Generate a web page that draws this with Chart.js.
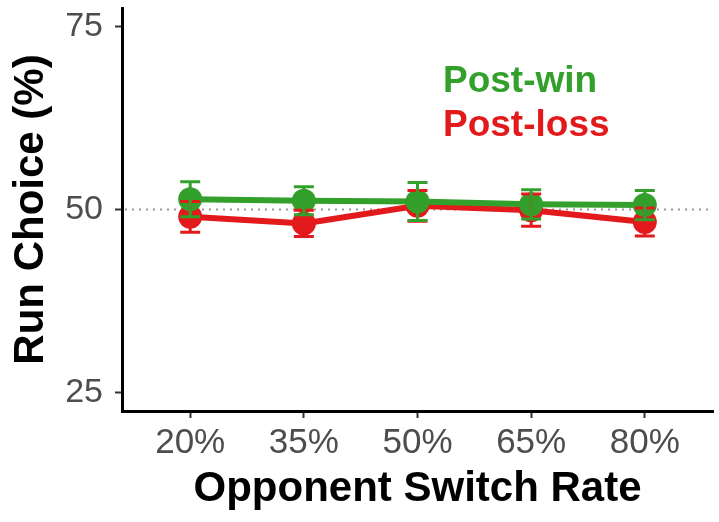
<!DOCTYPE html>
<html>
<head>
<meta charset="utf-8">
<script src="https://cdn.jsdelivr.net/npm/chart.js@4"></script>
<style>
  html, body { margin: 0; padding: 0; background: #fff; }
</style>
</head>
<body>
<canvas id="runChart" width="719" height="522"></canvas>
<script>
const categories = ['20%', '35%', '50%', '65%', '80%'];
const postWin = [51.4, 51.2, 51.1, 50.7, 50.6];
const postWinErr = [2.4, 1.9, 2.6, 2.0, 2.0];
const postLoss = [49.0, 48.1, 50.5, 49.9, 48.3];
const postLossErr = [2.1, 1.8, 2.1, 2.2, 1.9];
const yTicks = [25, 50, 75];
const refLine = 50;

const GREEN = '#33a02c';
const RED = '#e31a1c';
const FONT = '"Liberation Sans", Arial, Helvetica, sans-serif';

function toPoints(values) {
  return values.map(function (v, i) { return { x: i, y: v }; });
}

// dotted line at 50 behind the data
const refLinePlugin = {
  id: 'refLine',
  beforeDatasetsDraw(chart) {
    const ctx = chart.ctx;
    const area = chart.chartArea;
    const y = chart.scales.y.getPixelForValue(refLine);
    ctx.save();
    ctx.strokeStyle = '#9a9a9a';
    ctx.lineWidth = 2;
    ctx.setLineDash([2, 5]);
    ctx.beginPath();
    ctx.moveTo(area.left + 3, y);
    ctx.lineTo(area.right, y);
    ctx.stroke();
    ctx.restore();
  }
};

// error bars drawn on top of points
const errorBarPlugin = {
  id: 'errorBars',
  afterDatasetsDraw(chart) {
    const ctx = chart.ctx;
    const yScale = chart.scales.y;
    for (let d = chart.data.datasets.length - 1; d >= 0; d--) {
      const ds = chart.data.datasets[d];
      const meta = chart.getDatasetMeta(d);
      ctx.save();
      ctx.strokeStyle = ds.borderColor;
      ctx.lineWidth = 3;
      meta.data.forEach(function (pt, i) {
        const v = ds.data[i].y;
        const top = yScale.getPixelForValue(v + ds.errors[i]);
        const bot = yScale.getPixelForValue(v - ds.errors[i]);
        ctx.beginPath();
        ctx.moveTo(pt.x, top);
        ctx.lineTo(pt.x, bot);
        ctx.moveTo(pt.x - 10, top);
        ctx.lineTo(pt.x + 10, top);
        ctx.moveTo(pt.x - 10, bot);
        ctx.lineTo(pt.x + 10, bot);
        ctx.stroke();
      });
      ctx.restore();
    }
  }
};

// text-only legend inside the panel
const textLegendPlugin = {
  id: 'textLegend',
  afterDraw(chart) {
    const ctx = chart.ctx;
    const area = chart.chartArea;
    ctx.save();
    ctx.font = 'bold 37px ' + FONT;
    ctx.textAlign = 'left';
    ctx.textBaseline = 'alphabetic';
    chart.data.datasets.forEach(function (ds, i) {
      ctx.fillStyle = ds.borderColor;
      ctx.fillText(ds.label, area.left + 321, area.top + 84 + i * 44);
    });
    ctx.restore();
  }
};

const ctx = document.getElementById('runChart').getContext('2d');

new Chart(ctx, {
  type: 'line',
  data: {
    datasets: [
      {
        label: 'Post-win',
        data: toPoints(postWin),
        errors: postWinErr,
        borderColor: GREEN,
        backgroundColor: GREEN,
        borderWidth: 6,
        pointRadius: 12,
        pointBorderWidth: 0,
        pointBackgroundColor: GREEN,
        tension: 0
      },
      {
        label: 'Post-loss',
        data: toPoints(postLoss),
        errors: postLossErr,
        borderColor: RED,
        backgroundColor: RED,
        borderWidth: 6,
        pointRadius: 12,
        pointBorderWidth: 0,
        pointBackgroundColor: RED,
        tension: 0
      }
    ]
  },
  options: {
    responsive: false,
    animation: false,
    devicePixelRatio: 1,
    layout: { autoPadding: false, padding: { top: 8, right: 6, left: 0, bottom: 0 } },
    plugins: {
      legend: { display: false },
      tooltip: { enabled: false }
    },
    scales: {
      x: {
        type: 'linear',
        min: -0.6,
        max: 4.6,
        afterBuildTicks: function (scale) {
          scale.ticks = categories.map(function (c, i) { return { value: i }; });
        },
        afterFit: function (scale) {
          scale.height = 111;
          scale.paddingLeft = 0;
          scale.paddingRight = 0;
        },
        ticks: {
          callback: function (value) { return categories[value]; },
          color: '#4d4d4d',
          font: { family: FONT, size: 35 },
          padding: 4,
          maxRotation: 0,
          autoSkip: false
        },
        grid: {
          drawOnChartArea: false,
          drawTicks: true,
          tickLength: 7,
          tickColor: '#333333',
          tickWidth: 2
        },
        border: { display: true, color: '#000000', width: 3 },
        title: {
          display: true,
          text: 'Opponent Switch Rate',
          color: '#000000',
          font: { family: FONT, size: 42, weight: 'bold' },
          padding: { top: 0, bottom: 7 }
        }
      },
      y: {
        type: 'linear',
        min: 22.5,
        max: 77.5,
        afterBuildTicks: function (scale) {
          scale.ticks = yTicks.map(function (v) { return { value: v }; });
        },
        afterFit: function (scale) {
          scale.width = 122;
          scale.paddingTop = 0;
          scale.paddingBottom = 0;
        },
        ticks: {
          color: '#4d4d4d',
          font: { family: FONT, size: 34 },
          padding: 12
        },
        grid: {
          drawOnChartArea: false,
          drawTicks: true,
          tickLength: 7,
          tickColor: '#333333',
          tickWidth: 2
        },
        border: { display: true, color: '#000000', width: 3 },
        title: {
          display: true,
          text: 'Run Choice (%)',
          color: '#000000',
          font: { family: FONT, size: 42, weight: 'bold' },
          padding: { top: 6, bottom: 0 }
        }
      }
    }
  },
  plugins: [refLinePlugin, errorBarPlugin, textLegendPlugin]
});
</script>
</body>
</html>
